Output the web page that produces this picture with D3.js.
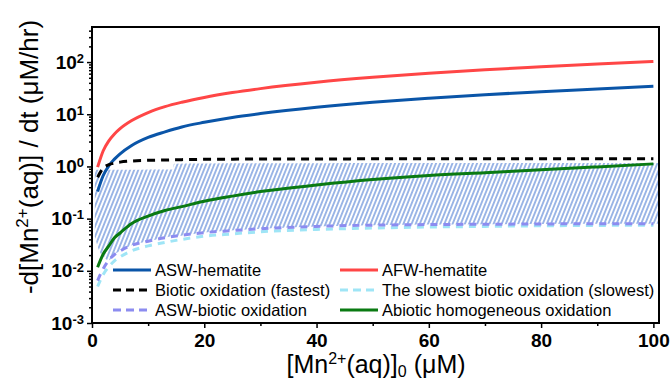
<!DOCTYPE html>
<html>
<head>
<meta charset="utf-8">
<script src="https://cdn.jsdelivr.net/npm/d3@7"></script>
<style>
  body { margin: 0; background: white; }
  svg { display: block; font-family: Arial, "Liberation Sans", sans-serif; }
</style>
</head>
<body>
<svg width="670" height="382"></svg>
<script>
// Values (x = [Mn2+]0 in uM, y = rate in uM/hr)
var mnX = [1, 2, 3, 4, 5, 7, 10, 13, 16, 20, 25, 30, 40, 50, 60, 70, 80, 90, 100];
var afwHematite = [0.97, 2.0, 3.1, 4.2, 5.3, 7.5, 10.8, 14, 17, 21, 26, 31, 41, 51, 61, 71, 81, 92, 103];
var aswHematite = [0.33, 0.67, 1.03, 1.38, 1.75, 2.5, 3.6, 4.6, 5.7, 7.0, 8.7, 10.3, 13.6, 17, 20.3, 23.7, 27, 30.5, 34.4];
var bioticFast = [0.62, 0.93, 1.08, 1.16, 1.21, 1.27, 1.31, 1.33, 1.35, 1.37, 1.38, 1.39, 1.39, 1.40, 1.40, 1.40, 1.41, 1.41, 1.41];
var bioticSlow = [0.005, 0.0085, 0.012, 0.0155, 0.0185, 0.024, 0.03, 0.035, 0.04, 0.046, 0.051, 0.056, 0.062, 0.066, 0.069, 0.071, 0.073, 0.074, 0.075];
var aswBiotic = [0.0065, 0.011, 0.016, 0.0205, 0.024, 0.0306, 0.037, 0.043, 0.048, 0.054, 0.059, 0.064, 0.071, 0.075, 0.077, 0.078, 0.079, 0.08, 0.08];
var abiotic = [0.0117, 0.021, 0.03, 0.043, 0.053, 0.08, 0.112, 0.143, 0.17, 0.215, 0.27, 0.33, 0.44, 0.56, 0.67, 0.76, 0.86, 0.98, 1.12];

// Hatched band (range of biotic rates)
var bandX = [0.5, 1.5, 3, 4, 5, 7, 10, 13, 14.4, 14.6, 20, 30, 40, 50, 60, 70, 80, 90, 101];
var bandHigh = [0.86, 0.86, 0.86, 0.86, 0.86, 0.86, 0.87, 0.87, 0.87, 1.13, 1.14, 1.15, 1.15, 1.16, 1.16, 1.16, 1.17, 1.17, 1.17];
var bandLow = [0.045, 0.022, 0.016, 0.0205, 0.024, 0.0306, 0.037, 0.043, 0.046, 0.046, 0.054, 0.064, 0.071, 0.075, 0.077, 0.078, 0.079, 0.08, 0.08];

var xTicks = [0, 20, 40, 60, 80, 100];
var xMinorTicks = [10, 30, 50, 70, 90];
var yExponents = [-3, -2, -1, 0, 1, 2];

var svg = d3.select("svg");

var x = d3.scaleLinear().domain([0, 101]).range([92, 659]);
var y = d3.scaleLog().domain([0.001, 470]).range([323, 27]);

// Hatch pattern
var defs = svg.append("defs");
defs.append("pattern")
	.attr("id", "hatch")
	.attr("patternUnits", "userSpaceOnUse")
	.attr("width", 3.8)
	.attr("height", 10)
	.attr("patternTransform", "rotate(22)")
  .append("line")
	.attr("x1", 1.9).attr("y1", 0)
	.attr("x2", 1.9).attr("y2", 10)
	.attr("stroke", "#3c70cf")
	.attr("stroke-width", 1);
defs.append("clipPath").attr("id", "plotclip")
  .append("rect")
	.attr("x", 92).attr("y", 27)
	.attr("width", 567).attr("height", 296);

var plot = svg.append("g").attr("clip-path", "url(#plotclip)");

var band = d3.area()
	.x(function(d, i) { return x(bandX[i]); })
	.y0(function(d, i) { return y(bandLow[i]); })
	.y1(function(d, i) { return y(bandHigh[i]); })
	.curve(d3.curveMonotoneX);

plot.append("path")
	.datum(bandX)
	.attr("d", band)
	.attr("fill", "url(#hatch)");

// Curves
var series = [
	{name: "The slowest biotic oxidation (slowest)", values: bioticSlow, color: "#9fe5f6", dash: "7,6"},
	{name: "ASW-biotic oxidation", values: aswBiotic, color: "#8c8cf0", dash: "7,6"},
	{name: "Abiotic homogeneous oxidation", values: abiotic, color: "#0a7a12", dash: null},
	{name: "ASW-hematite", values: aswHematite, color: "#0a55a8", dash: null},
	{name: "AFW-hematite", values: afwHematite, color: "#ff4646", dash: null},
	{name: "Biotic oxidation (fastest)", values: bioticFast, color: "#000000", dash: "8,6"}
];

var line = d3.line()
	.x(function(d, i) { return x(mnX[i]); })
	.y(function(d) { return y(d); })
	.curve(d3.curveMonotoneX);

plot.selectAll(".curve")
	.data(series)
	.enter()
	.append("path")
	.attr("class", "curve")
	.attr("d", function(d) { return line(d.values); })
	.attr("fill", "none")
	.attr("stroke", function(d) { return d.color; })
	.attr("stroke-width", 3)
	.attr("stroke-dasharray", function(d) { return d.dash; });

// Axes
var xAxis = svg.append("g")
	.attr("transform", "translate(0,323)")
	.call(d3.axisBottom(x).tickValues(xTicks).tickSize(5).tickPadding(6).tickFormat(d3.format("d")));
svg.append("g")
	.attr("transform", "translate(0,323)")
	.call(d3.axisBottom(x).tickValues(xMinorTicks).tickSize(3).tickFormat(""));

var yMinor = [];
for (var e = -3; e <= 2; e++) {
	for (var m = 2; m <= 9; m++) {
		if (m * Math.pow(10, e) < 470) yMinor.push(m * Math.pow(10, e));
	}
}
var yAxis = svg.append("g")
	.attr("transform", "translate(92,0)")
	.call(d3.axisLeft(y).tickValues(yExponents.map(function(p) { return Math.pow(10, p); })).tickSize(5).tickPadding(3).tickFormat(""));
svg.append("g")
	.attr("transform", "translate(92,0)")
	.call(d3.axisLeft(y).tickValues(yMinor).tickSize(3).tickFormat(""));

svg.selectAll(".domain").remove();
svg.selectAll(".tick line").attr("stroke", "#000").attr("stroke-width", 1.5);

xAxis.selectAll("text")
	.attr("font-size", 19)
	.attr("font-weight", "bold")
	.attr("font-family", "Arial, 'Liberation Sans', sans-serif")
	.attr("fill", "#000");

// Y tick labels as 10^n
yAxis.selectAll(".tick").each(function(d) {
	var t = d3.select(this).select("text")
		.attr("font-size", 19)
		.attr("font-weight", "bold")
		.attr("font-family", "Arial, 'Liberation Sans', sans-serif")
		.attr("fill", "#000");
	t.text(null);
	t.append("tspan").text("10");
	t.append("tspan")
		.attr("font-size", 13)
		.attr("dy", "-0.45em")
		.text(Math.round(Math.log10(d)));
});

// Frame
svg.append("rect")
	.attr("x", 92).attr("y", 27)
	.attr("width", 567).attr("height", 296)
	.attr("fill", "none")
	.attr("stroke", "#000")
	.attr("stroke-width", 2);

// Axis titles
var xTitle = svg.append("text")
	.attr("x", 376).attr("y", 373)
	.attr("text-anchor", "middle")
	.attr("font-size", 25);
xTitle.append("tspan").text("[Mn");
xTitle.append("tspan").attr("font-size", 16).attr("dy", -9).text("2+");
xTitle.append("tspan").attr("dy", 9).text("(aq)]");
xTitle.append("tspan").attr("font-size", 16).attr("dy", 4).text("0");
xTitle.append("tspan").attr("dy", -4).text(" (\u03bcM)");

var yTitle = svg.append("text")
	.attr("transform", "translate(38,157) rotate(-90)")
	.attr("text-anchor", "middle")
	.attr("font-size", 26);
yTitle.append("tspan").text("-d[Mn");
yTitle.append("tspan").attr("font-size", 17).attr("dy", -10).text("2+");
yTitle.append("tspan").attr("dy", 10).text("(aq)] / dt (\u03bcM/hr)");

// Legend
var legendOrder = ["ASW-hematite", "AFW-hematite", "Biotic oxidation (fastest)",
	"The slowest biotic oxidation (slowest)", "ASW-biotic oxidation", "Abiotic homogeneous oxidation"];
var legend = svg.append("g")
	.selectAll("g")
	.data(legendOrder)
	.enter()
	.append("g")
	.attr("transform", function(d, i) {
		return "translate(" + (i % 2 === 0 ? 113 : 340) + "," + (270 + Math.floor(i / 2) * 20) + ")";
	});

legend.append("line")
	.attr("x1", 0).attr("x2", 38)
	.attr("stroke", function(d) { return series.find(function(s) { return s.name === d; }).color; })
	.attr("stroke-width", 3)
	.attr("stroke-dasharray", function(d) {
		var s = series.find(function(s) { return s.name === d; });
		return s.dash ? "8,5" : null;
	});

legend.append("text")
	.attr("x", 42).attr("y", 6)
	.attr("font-size", 16.5)
	.text(function(d) { return d; });
</script>
</body>
</html>
